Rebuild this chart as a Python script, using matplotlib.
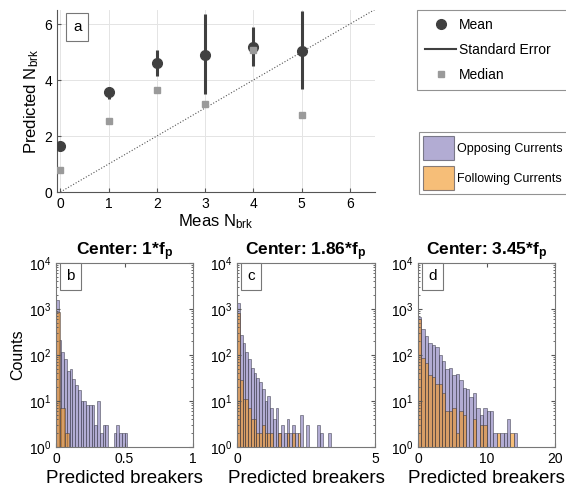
import numpy as np
import matplotlib
matplotlib.use('Agg')
import matplotlib.pyplot as plt
from matplotlib.lines import Line2D
from matplotlib.patches import Patch

plt.rcParams['font.family'] = ['Liberation Sans', 'DejaVu Sans']
plt.rcParams['mathtext.fontset'] = 'custom'
plt.rcParams['mathtext.rm'] = 'Liberation Sans'
plt.rcParams['mathtext.it'] = 'Liberation Sans'
plt.rcParams['mathtext.bf'] = 'Liberation Sans:bold'

# panel a: predicted vs measured number of breakers
meas = [0, 1, 2, 3, 4, 5]
mean_pred = [1.63, 3.56, 4.62, 4.90, 5.19, 5.05]
se_low = [1.60, 3.32, 4.13, 3.51, 4.49, 3.68]
se_high = [1.66, 3.75, 5.08, 6.35, 5.89, 6.45]
median_pred = [0.80, 2.55, 3.63, 3.14, 5.08, 2.74]

# histograms (bin width, counts) for opposing / following currents
titles = ['Center: 1*f$_\\mathbf{p}$', 'Center: 1.86*f$_\\mathbf{p}$', 'Center: 3.45*f$_\\mathbf{p}$']
panel_tags = ['b', 'c', 'd']
xmax = [1, 5, 20]
xticks = [[0, 0.5, 1], [0, 5], [0, 10, 20]]
xticklabels = [['0', '0.5', '1'], ['0', '5'], ['0', '10', '20']]

opp_width = [0.02, 0.1, 0.5]
opp_counts = [
    [1580, 213, 115, 80, 45, 49, 30, 22, 17, 10, 10, 8, 8, 8, 3, 10, 2, 3, 3, 0, 0, 2, 3, 2, 2, 2],
    [1380, 270, 185, 115, 80, 51, 40, 31, 26, 18, 10, 13, 7, 4, 7, 2, 3, 2, 4, 2, 3, 2, 0, 5, 0, 3,
     0, 0, 0, 3, 2, 0, 0, 2],
    [680, 370, 260, 185, 165, 147, 100, 74, 50, 53, 36, 38, 28, 19, 18, 12, 15, 7, 5, 7, 6, 6, 2, 0,
     2, 2, 4, 0, 2],
]
fol_width = [0.032, 0.1, 0.5]
fol_counts = [
    [870, 7, 2],
    [830, 29, 11, 11, 7, 4, 4, 2, 2, 3, 2, 2, 2, 0, 0, 2, 0, 0, 2, 0, 2, 0, 2],
    [600, 85, 68, 36, 33, 24, 24, 15, 6, 6, 7, 2, 6, 5, 0, 0, 4, 0, 3, 3, 0, 0, 0, 2, 0, 0, 0, 2],
]

purple = '#7f75b7'
orange = '#f0931e'
edge = '#3a3a48'

W, H = 566, 487
fig = plt.figure(figsize=(W / 100, H / 100), dpi=100)

def px_axes(x0, x1, y0, y1):
    return fig.add_axes([x0 / W, (H - y1) / H, (x1 - x0) / W, (y1 - y0) / H])

# ---- panel a
ax = px_axes(57, 375, 10, 192)
lo = np.array(mean_pred) - np.array(se_low)
hi = np.array(se_high) - np.array(mean_pred)
ax.plot([0, 6.6], [0, 6.6], ':', color='#555555', lw=0.8)
ax.errorbar(meas, mean_pred, yerr=[lo, hi], fmt='none', ecolor='#404040', elinewidth=2.2, zorder=3)
ax.plot(meas, mean_pred, 'o', color='#404040', ms=7, zorder=4)
ax.plot(meas, median_pred, 's', color='#9a9a9a', ms=5, zorder=5)
ax.set_xlim(-0.07, 6.52)
ax.set_ylim(0, 6.5)
ax.set_xticks(range(7))
ax.set_yticks([0, 2, 4, 6])
ax.grid(True, color='#e4e4e4', lw=0.7)
ax.set_axisbelow(True)
for s in ['top', 'right']:
    ax.spines[s].set_visible(False)
for s in ['left', 'bottom']:
    ax.spines[s].set_color('#555555')
ax.tick_params(direction='in', labelsize=10, length=3, color='#555555')
ax.set_xlabel('Meas N$_{\\mathrm{brk}}$', fontsize=12, labelpad=1)
ax.set_ylabel('Predicted N$_{\\mathrm{brk}}$', fontsize=12, labelpad=2)
ax.text(0.05, 0.945, 'a', transform=ax.transAxes, fontsize=11, va='top', ha='left',
        bbox=dict(boxstyle='square,pad=0.45', fc='white', ec='#777777', lw=0.8))

# ---- legends
lax1 = px_axes(417, 580, 11, 89)
lax1.axis('off')
h1 = [Line2D([], [], ls='none', marker='o', color='#404040', ms=7),
      Line2D([], [], color='#404040', lw=1.5),
      Line2D([], [], ls='none', marker='s', color='#9a9a9a', ms=5)]
lg1 = lax1.legend(h1, ['Mean', 'Standard Error', 'Median'], loc='center', bbox_to_anchor=(0, 0, 1, 1),
                  mode='expand', borderaxespad=0, fontsize=10, handlelength=2.2, handletextpad=0.2,
                  labelspacing=0.8, borderpad=0.6, fancybox=False, edgecolor='#777777')
lg1.get_frame().set_linewidth(0.8)

lax2 = px_axes(419, 580, 127, 199)
lax2.axis('off')
h2 = [Patch(fc=purple, alpha=0.6, ec=edge, lw=0.8), Patch(fc=orange, alpha=0.6, ec=edge, lw=0.8)]
lg2 = lax2.legend(h2, ['Opposing Currents', 'Following Currents'], loc='center', bbox_to_anchor=(0, 0, 1, 1),
                  mode='expand', borderaxespad=0, fontsize=9, handlelength=2.5, handleheight=2.6,
                  handletextpad=0.25, labelspacing=0.45, borderpad=0.3, fancybox=False, edgecolor='#777777')
lg2.get_frame().set_linewidth(0.8)

# ---- histograms
lefts = [(56, 193), (237, 375), (418, 555)]
for i, (x0, x1) in enumerate(lefts):
    ax = px_axes(x0, x1, 263, 447)
    for w, cnt, col in [(opp_width[i], opp_counts[i], purple), (fol_width[i], fol_counts[i], orange)]:
        cnt = np.array(cnt, dtype=float)
        left = np.arange(len(cnt)) * w
        keep = cnt > 0
        ax.bar(left[keep], cnt[keep], width=w, align='edge', color=col, alpha=0.6,
               edgecolor=edge, linewidth=0.6)
    ax.set_yscale('log')
    ax.set_ylim(1, 1e4)
    ax.set_xlim(0, xmax[i])
    ax.set_xticks(xticks[i])
    ax.set_xticklabels(xticklabels[i])
    ax.set_yticks([1, 10, 100, 1000, 10000])
    ax.tick_params(which='both', direction='in', top=True, right=True, labelsize=10,
                   color='#555555')
    ax.tick_params(which='major', length=3)
    ax.tick_params(which='minor', length=1.5)
    for s in ax.spines.values():
        s.set_color('#777777')
        s.set_linewidth(0.8)
    ax.set_xlabel('Predicted breakers', fontsize=13.5, labelpad=3)
    if i == 0:
        ax.set_ylabel('Counts', fontsize=11.5, labelpad=2)
    ax.set_title(titles[i], fontsize=12.5, fontweight='bold', pad=4)
    ax.text(0.075, 0.965, panel_tags[i], transform=ax.transAxes, fontsize=11, va='top', ha='left',
            bbox=dict(boxstyle='square,pad=0.4', fc='white', ec='#777777', lw=0.8))

fig.savefig('out.png', dpi=100)
